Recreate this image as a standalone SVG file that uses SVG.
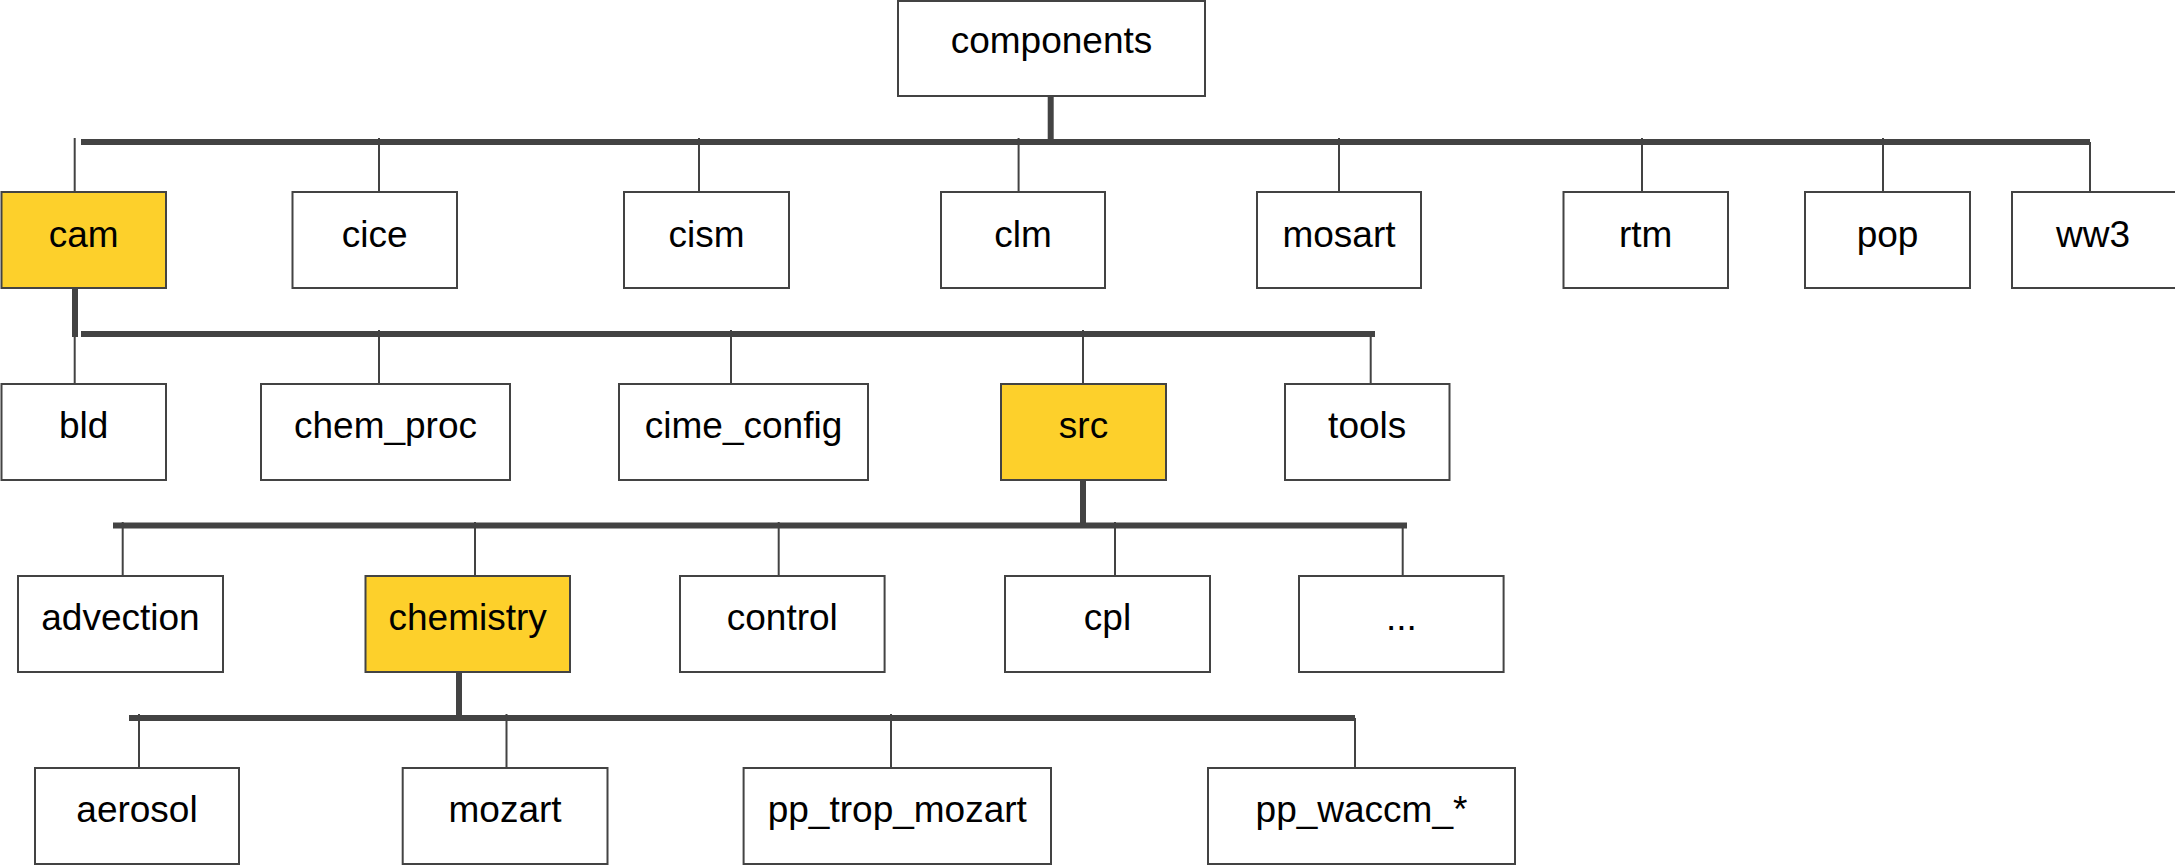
<svg xmlns="http://www.w3.org/2000/svg" width="2175" height="865" viewBox="0 0 2175 865">
  <style>
    .box { fill: #ffffff; stroke: #434343; stroke-width: 2; }
    .hl { fill: #fdd02b; stroke: #434343; stroke-width: 2; }
    .lbl { font-family: "Liberation Sans", Arial, sans-serif; font-size: 37px; fill: #000000; text-anchor: middle; }
    .bus { stroke: #434343; stroke-width: 6; fill: none; }
    .stem { stroke: #434343; stroke-width: 2; fill: none; }
  </style>
  <rect width="2175" height="865" fill="#ffffff"/>

  <g id="connectors">
    <!-- level 1 -->
    <line class="bus" x1="1050.7" y1="90" x2="1050.7" y2="145"/>
    <line class="bus" x1="81" y1="142" x2="2090" y2="142"/>
    <line class="stem" x1="74.7" y1="138" x2="74.7" y2="192"/>
    <line class="stem" x1="379" y1="138" x2="379" y2="192"/>
    <line class="stem" x1="699" y1="138" x2="699" y2="192"/>
    <line class="stem" x1="1018.6" y1="138" x2="1018.6" y2="192"/>
    <line class="stem" x1="1339" y1="138" x2="1339" y2="192"/>
    <line class="stem" x1="1642" y1="138" x2="1642" y2="192"/>
    <line class="stem" x1="1883" y1="138" x2="1883" y2="192"/>
    <line class="stem" x1="2090" y1="142" x2="2090" y2="192"/>
    <!-- level 2 (cam) -->
    <line class="bus" x1="75" y1="282" x2="75" y2="337"/>
    <line class="bus" x1="81" y1="334" x2="1375" y2="334"/>
    <line class="stem" x1="74.7" y1="330" x2="74.7" y2="384"/>
    <line class="stem" x1="379" y1="330" x2="379" y2="384"/>
    <line class="stem" x1="731" y1="330" x2="731" y2="384"/>
    <line class="stem" x1="1083" y1="330" x2="1083" y2="384"/>
    <line class="stem" x1="1370.7" y1="334" x2="1370.7" y2="384"/>
    <!-- level 3 (src) -->
    <line class="bus" x1="1083" y1="474" x2="1083" y2="528"/>
    <line class="bus" x1="113" y1="525.5" x2="1407" y2="525.5"/>
    <line class="stem" x1="122.7" y1="522" x2="122.7" y2="576"/>
    <line class="stem" x1="475" y1="522" x2="475" y2="576"/>
    <line class="stem" x1="778.7" y1="522" x2="778.7" y2="576"/>
    <line class="stem" x1="1115" y1="522" x2="1115" y2="576"/>
    <line class="stem" x1="1402.7" y1="525.5" x2="1402.7" y2="576"/>
    <!-- level 4 (chemistry) -->
    <line class="bus" x1="459" y1="666" x2="459" y2="721"/>
    <line class="bus" x1="129" y1="718" x2="1355" y2="718"/>
    <line class="stem" x1="139" y1="714" x2="139" y2="768"/>
    <line class="stem" x1="506.5" y1="714" x2="506.5" y2="768"/>
    <line class="stem" x1="891" y1="714" x2="891" y2="768"/>
    <line class="stem" x1="1355" y1="718" x2="1355" y2="768"/>
  </g>

  <g id="components"><rect class="box" x="898" y="1" width="307" height="95"/><text class="lbl" x="1051.5" y="53">components</text></g>

  <g id="cam"><rect class="hl" x="1.5" y="192" width="164.5" height="96"/><text class="lbl" x="83.7" y="247">cam</text></g>
  <g id="cice"><rect class="box" x="292.5" y="192" width="164.5" height="96"/><text class="lbl" x="374.7" y="247">cice</text></g>
  <g id="cism"><rect class="box" x="624" y="192" width="165" height="96"/><text class="lbl" x="706.5" y="247">cism</text></g>
  <g id="clm"><rect class="box" x="941" y="192" width="164" height="96"/><text class="lbl" x="1023" y="247">clm</text></g>
  <g id="mosart"><rect class="box" x="1257" y="192" width="164" height="96"/><text class="lbl" x="1339" y="247">mosart</text></g>
  <g id="rtm"><rect class="box" x="1563.5" y="192" width="164.5" height="96"/><text class="lbl" x="1645.7" y="247">rtm</text></g>
  <g id="pop"><rect class="box" x="1805" y="192" width="165" height="96"/><text class="lbl" x="1887.5" y="247">pop</text></g>
  <g id="ww3"><rect class="box" x="2012" y="192" width="164" height="96"/><text class="lbl" x="2093" y="247">ww3</text></g>

  <g id="bld"><rect class="box" x="1.5" y="384" width="164.5" height="96"/><text class="lbl" x="83.7" y="438">bld</text></g>
  <g id="chem_proc"><rect class="box" x="261" y="384" width="249" height="96"/><text class="lbl" x="385.5" y="438">chem_proc</text></g>
  <g id="cime_config"><rect class="box" x="619" y="384" width="249" height="96"/><text class="lbl" x="743.5" y="438">cime_config</text></g>
  <g id="src"><rect class="hl" x="1001" y="384" width="165" height="96"/><text class="lbl" x="1083.5" y="438">src</text></g>
  <g id="tools"><rect class="box" x="1285" y="384" width="164.5" height="96"/><text class="lbl" x="1367.2" y="438">tools</text></g>

  <g id="advection"><rect class="box" x="18" y="576" width="205" height="96"/><text class="lbl" x="120.5" y="630">advection</text></g>
  <g id="chemistry"><rect class="hl" x="365.5" y="576" width="204.5" height="96"/><text class="lbl" x="467.7" y="630">chemistry</text></g>
  <g id="control"><rect class="box" x="680" y="576" width="204.6" height="96"/><text class="lbl" x="782.3" y="630">control</text></g>
  <g id="cpl"><rect class="box" x="1005" y="576" width="205" height="96"/><text class="lbl" x="1107.5" y="630">cpl</text></g>
  <g id="more"><rect class="box" x="1299" y="576" width="204.6" height="96"/><text class="lbl" x="1401.3" y="630">...</text></g>

  <g id="aerosol"><rect class="box" x="35" y="768" width="204" height="96"/><text class="lbl" x="137" y="822">aerosol</text></g>
  <g id="mozart"><rect class="box" x="402.7" y="768" width="204.8" height="96"/><text class="lbl" x="505.1" y="822">mozart</text></g>
  <g id="pp_trop_mozart"><rect class="box" x="743.6" y="768" width="307.4" height="96"/><text class="lbl" x="897.3" y="822">pp_trop_mozart</text></g>
  <g id="pp_waccm"><rect class="box" x="1208" y="768" width="307" height="96"/><text class="lbl" x="1361.5" y="822">pp_waccm_*</text></g>
</svg>
